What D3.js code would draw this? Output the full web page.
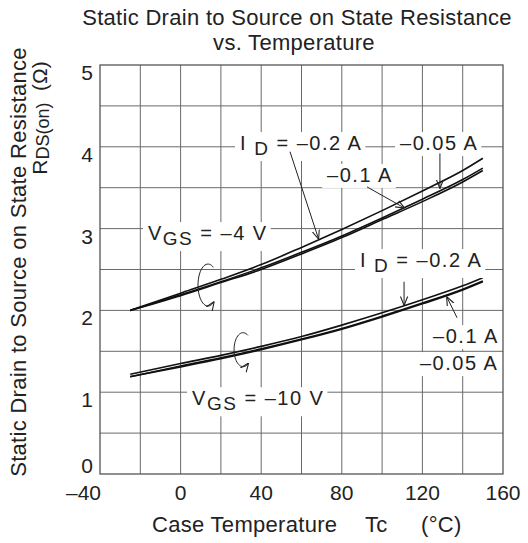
<!DOCTYPE html>
<html>
<meta charset="utf-8">
<style>
body { margin: 0; background: #fff; }
svg text { font-family: "Liberation Sans", Arial, sans-serif; fill: #222; }
.grid line { stroke: #6a6a6a; stroke-width: 1; }
.curve { fill: none; stroke: #111; stroke-width: 1.6; }
.lead { stroke: #222; stroke-width: 1; fill: none; }
.big { font-size: 22px; letter-spacing: 0.3px; }
.ann { font-size: 20px; letter-spacing: 1.5px; }
</style>
<body>
<svg width="528" height="543"></svg>
<script src="https://cdnjs.cloudflare.com/ajax/libs/d3/7.8.5/d3.min.js"></script>
<script>
// case temperature (deg C) sample points
var temps = [-25, 0, 20, 40, 60, 80, 100, 120, 140, 150];
// RDS(on) in ohms, VGS = -4 V
var vgs4_02  = [2.00, 2.21, 2.38, 2.56, 2.77, 2.99, 3.22, 3.46, 3.71, 3.86];
var vgs4_01  = [2.00, 2.19, 2.35, 2.52, 2.71, 2.91, 3.13, 3.36, 3.60, 3.74];
var vgs4_005 = [2.00, 2.18, 2.34, 2.50, 2.69, 2.89, 3.11, 3.33, 3.57, 3.71];
// VGS = -10 V
var vgs10_02  = [1.22, 1.35, 1.45, 1.56, 1.68, 1.82, 1.97, 2.13, 2.30, 2.40];
var vgs10_01  = [1.19, 1.32, 1.42, 1.53, 1.65, 1.78, 1.93, 2.09, 2.26, 2.36];
var vgs10_005 = [1.19, 1.31, 1.41, 1.52, 1.64, 1.77, 1.92, 2.08, 2.25, 2.35];

var xTicks = [-40, 0, 40, 80, 120, 160];
var yTicks = [0, 1, 2, 3, 4, 5];

var svg = d3.select("svg"),
    margin = {top: 65, right: 25, bottom: 69, left: 100},
    width = +svg.attr("width") - margin.left - margin.right,
    height = +svg.attr("height") - margin.top - margin.bottom;

var x = d3.scaleLinear().domain([-40, 160]).range([0, width]),
    y = d3.scaleLinear().domain([0, 5]).range([height, 0]);

var defs = svg.append("defs");
defs.append("marker")
    .attr("id", "arr")
    .attr("viewBox", "0 0 10 10")
    .attr("refX", 10).attr("refY", 5)
    .attr("markerWidth", 9).attr("markerHeight", 9)
    .attr("markerUnits", "userSpaceOnUse")
    .attr("orient", "auto")
  .append("path")
    .attr("d", "M0,1 L10,5 L0,9")
    .attr("fill", "none").attr("stroke", "#222").attr("stroke-width", 1.2);

// title
svg.append("text").attr("class", "big").attr("x", 297).attr("y", 25).attr("text-anchor", "middle")
    .text("Static Drain to Source on State Resistance");
svg.append("text").attr("class", "big").attr("x", 294).attr("y", 50).attr("text-anchor", "middle")
    .text("vs. Temperature");

var g = svg.append("g")
    .attr("transform", "translate(" + margin.left + "," + margin.top + ")");

// grid
var grid = g.append("g").attr("class", "grid");
grid.selectAll(".gx").data(d3.range(-20, 160, 20)).enter().append("line")
    .attr("x1", function(d) { return x(d); }).attr("x2", function(d) { return x(d); })
    .attr("y1", 0).attr("y2", height);
grid.selectAll(".gy").data(d3.range(0.5, 5, 0.5)).enter().append("line")
    .attr("y1", function(d) { return y(d); }).attr("y2", function(d) { return y(d); })
    .attr("x1", 0).attr("x2", width);

// curves
var line = d3.line()
    .x(function(d) { return x(d[0]); })
    .y(function(d) { return y(d[1]); })
    .curve(d3.curveMonotoneX);

[vgs4_02, vgs4_01, vgs4_005, vgs10_02, vgs10_01, vgs10_005].forEach(function(s) {
  g.append("path").attr("class", "curve")
    .attr("d", line(temps.map(function(t, i) { return [t, s[i]]; })));
});

// frame
g.append("rect").attr("width", width).attr("height", height)
    .attr("fill", "none").attr("stroke", "#555").attr("stroke-width", 1.3);

// tick labels (sit just under their grid line, 0 sits above)
g.selectAll(".yl").data(yTicks).enter().append("text")
    .attr("x", -7).attr("y", function(d) { return d === 0 ? y(d) - 1 : y(d) + 15; })
    .attr("text-anchor", "end").style("font-size", "21px")
    .text(function(d) { return d; });
g.selectAll(".xl").data(xTicks).enter().append("text")
    .attr("x", function(d) { return d === -40 ? x(d) + 1 : x(d); }).attr("y", height + 26)
    .attr("text-anchor", function(d) { return d === -40 ? "end" : "middle"; })
    .style("font-size", "21px")
    .text(function(d) { return d < 0 ? "\u2013" + (-d) : d; });

// axis titles
svg.append("text").attr("class", "big").attr("x", 152).attr("y", 532).text("Case Temperature");
svg.append("text").attr("class", "big").attr("x", 365).attr("y", 532).text("Tc");
svg.append("text").attr("class", "big").attr("x", 421).attr("y", 532).text("(\u00b0C)");

svg.append("text").attr("class", "big").attr("transform", "translate(26,262) rotate(-90)")
    .attr("text-anchor", "middle")
    .text("Static Drain to Source on State Resistance");
var yl2 = svg.append("text").attr("transform", "translate(47,118) rotate(-90)")
    .attr("text-anchor", "middle").style("font-size", "21px").style("white-space", "pre");
yl2.append("tspan").text("R");
yl2.append("tspan").style("font-size", "18px").attr("dy", 2).text("DS(on)");
yl2.append("tspan").attr("dy", -2).text("  (\u03a9)");

// annotations
function label(t, r, parts) {
  var gg = g.append("g");
  var bg = gg.append("rect").attr("fill", "#fff");
  var tx = gg.append("text").attr("class", "ann").attr("x", x(t)).attr("y", y(r))
      .style("white-space", "pre");
  parts.forEach(function(p) {
    if (p.sub) {
      tx.append("tspan").style("font-size", "19px").attr("dy", 5).text(p.s);
    } else {
      tx.append("tspan").attr("dy", p.up ? -5 : 0).text(p.s);
    }
  });
  var b = tx.node().getBBox();
  bg.attr("x", b.x - 5).attr("y", b.y).attr("width", b.width + 8).attr("height", b.height + 2);
}
function arrow(t1, r1, t2, r2) {
  g.append("line").attr("class", "lead")
    .attr("x1", x(t1)).attr("y1", y(r1)).attr("x2", x(t2)).attr("y2", y(r2))
    .attr("marker-end", "url(#arr)");
}
function rot(t, r, rx, ry) {
  var cx = x(t), cy = y(r);
  var a0 = -1.0, a1 = 0.9;
  var pts = d3.range(0, 41).map(function(i) {
    var a = a0 - (2 * Math.PI - (a1 - a0)) * i / 40;
    return [cx + rx * Math.cos(a), cy + ry * Math.sin(a)];
  });
  g.append("path").attr("class", "lead")
    .attr("d", d3.line()(pts)).attr("marker-end", "url(#arr)");
}

label(29.5, 3.96, [{s: "I "}, {s: "D", sub: true}, {s: " = \u20130.2 A", up: true}]);
label(108.9, 3.96, [{s: "\u20130.05 A"}]);
label(72.7, 3.57, [{s: "\u20130.1 A"}]);
label(-16.2, 2.86, [{s: "V"}, {s: "GS", sub: true}, {s: " = \u20134 V", up: true}]);
label(89, 2.53, [{s: "I "}, {s: "D", sub: true}, {s: " = \u20130.2 A", up: true}]);
label(125.3, 1.60, [{s: "\u20130.1 A"}]);
label(118.8, 1.27, [{s: "\u20130.05 A"}]);
label(5.7, 0.84, [{s: "V"}, {s: "GS", sub: true}, {s: " = \u201310 V", up: true}]);

arrow(54.3, 3.94, 68.5, 2.87);
arrow(128.7, 3.92, 128.7, 3.49);
arrow(92.5, 3.51, 111.2, 3.25);
arrow(110.9, 2.35, 110.9, 2.06);
arrow(137.2, 1.91, 132, 2.17);

rot(13.6, 2.31, 10, 21);
rot(31, 1.52, 9, 17);
</script>
</body>
</html>
